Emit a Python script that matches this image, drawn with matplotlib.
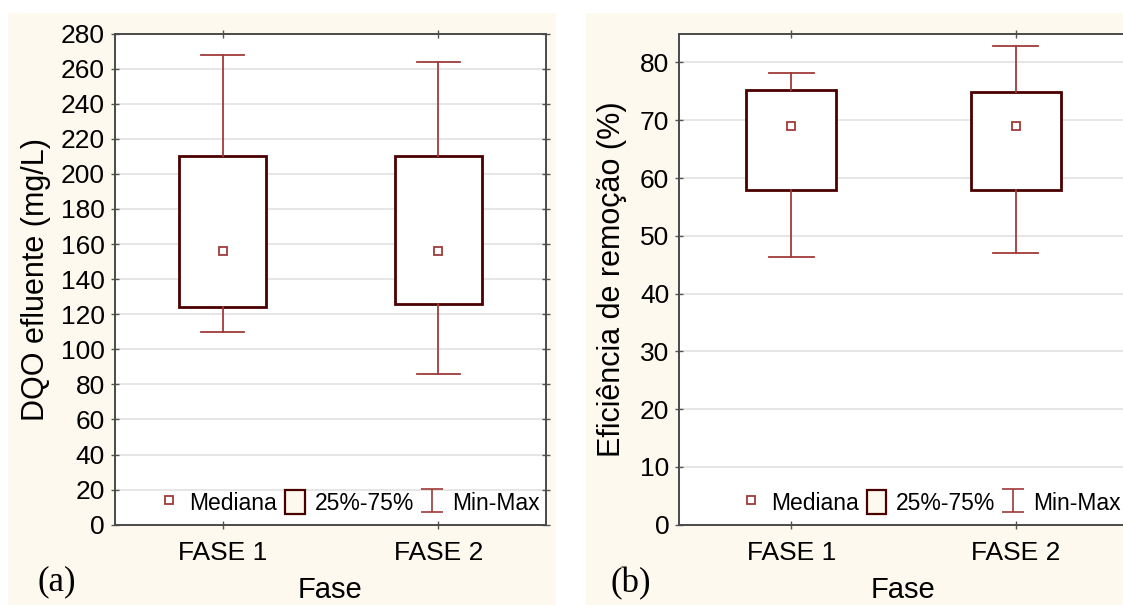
import matplotlib
matplotlib.use("Agg")
import matplotlib.pyplot as plt
from matplotlib.patches import Rectangle, Patch
from matplotlib.lines import Line2D
import numpy as np

plt.rcParams['font.family'] = ['Liberation Sans', 'DejaVu Sans']

# dados
fases = ["FASE 1", "FASE 2"]
dqo_min = [110, 86]
dqo_q1 = [124, 126]
dqo_med = [156, 156]
dqo_q3 = [210, 210]
dqo_max = [268, 264]

ef_min = [46.4, 47.1]
ef_q1 = [58.0, 58.0]
ef_med = [69.0, 69.0]
ef_q3 = [75.2, 74.9]
ef_max = [78.1, 82.8]

BOX_EDGE = "#4a0000"
WHISK = "#a03a3a"
CREAM = "#fdf9ee"
W, H = 1123, 605


def fx(px):
    return px / W


def fy(py):
    return (H - py) / H


def boxplot(ax, mins, q1s, meds, q3s, maxs, ymax, yticks):
    stats = []
    for i in range(len(fases)):
        stats.append({'med': meds[i], 'q1': q1s[i], 'q3': q3s[i],
                      'whislo': mins[i], 'whishi': maxs[i], 'fliers': []})
    pos = np.arange(1, len(fases) + 1)
    ax.bxp(stats, positions=pos, widths=0.4, capwidths=0.2, patch_artist=True,
           showfliers=False,
           boxprops=dict(facecolor="white", edgecolor=BOX_EDGE, linewidth=2.0),
           whiskerprops=dict(color=WHISK, linewidth=1.3),
           capprops=dict(color=WHISK, linewidth=1.3),
           medianprops=dict(visible=False), zorder=3)
    ax.plot(pos, meds, ls="none", marker="s", ms=5.5, mfc="white",
            mec=WHISK, mew=1.3, zorder=4)

    ax.set_xlim(0.5, 2.5)
    ax.set_ylim(0, ymax)
    ax.set_yticks(yticks)
    ax.set_xticks(pos)
    ax.set_xticklabels(fases)
    ax.grid(axis="y", color="#e4e4e4", lw=1.3, zorder=0)
    ax.set_axisbelow(True)
    for s in ax.spines.values():
        s.set_color("#4a4a4a")
        s.set_linewidth(1.4)
    ax.tick_params(direction="inout", length=6, width=1.0, color="#555555",
                   top=True, right=True, labelsize=19)
    ax.tick_params(axis="x", pad=9)
    ax.tick_params(axis="y", pad=4)

    hs = [Line2D([], [], ls="none", marker="s", ms=5.5, mfc="white", mec=WHISK, mew=1.3),
          Patch(facecolor=CREAM, edgecolor=BOX_EDGE, linewidth=1.6),
          ax.errorbar([np.nan], [np.nan], yerr=[1], fmt="none", ecolor=WHISK,
                      elinewidth=1.2, capsize=8, capthick=1.2)]
    ax.legend(hs, ["Mediana", "25%-75%", "Min-Max"], ncol=3, frameon=False,
              loc="center right", bbox_to_anchor=(0.985, 0.045), fontsize=16.5,
              handlelength=0.85, handleheight=1.25, handletextpad=0.45,
              columnspacing=0.35, borderpad=0, borderaxespad=0)
    return ax


fig = plt.figure(figsize=(11.23, 6.05), dpi=100)
fig.patch.set_facecolor("white")
fig.add_artist(Rectangle((fx(8), 0), fx(556) - fx(8), fy(13), transform=fig.transFigure,
                         facecolor=CREAM, edgecolor="none", zorder=-10))
fig.add_artist(Rectangle((fx(586), 0), 1 - fx(586), fy(13), transform=fig.transFigure,
                         facecolor=CREAM, edgecolor="none", zorder=-10))

ax1 = fig.add_axes([fx(114.6), fy(524.7), fx(431.8), (524.7 - 33.6) / H])
ax2 = fig.add_axes([fx(678.9), fy(524.7), fx(449), (524.7 - 33.6) / H])

boxplot(ax1, dqo_min, dqo_q1, dqo_med, dqo_q3, dqo_max, 280, np.arange(0, 281, 20))
boxplot(ax2, ef_min, ef_q1, ef_med, ef_q3, ef_max, 85, np.arange(0, 81, 10))

fig.text(fx(35.7), fy(279.5), "DQO efluente (mg/L)", rotation=90, ha="center", va="center", fontsize=22)
fig.text(fx(612), fy(279.5), "Eficiência de remoção (%)", rotation=90, ha="center", va="center", fontsize=22)
fig.text(fx(330.5), fy(590), "Fase", ha="center", va="center", fontsize=21)
fig.text(fx(903.4), fy(590), "Fase", ha="center", va="center", fontsize=21)
fig.text(fx(57), fy(582), "(a)", ha="center", va="center", fontsize=25,
         family=["Liberation Serif", "DejaVu Serif"])
fig.text(fx(631), fy(584), "(b)", ha="center", va="center", fontsize=25,
         family=["Liberation Serif", "DejaVu Serif"])

fig.savefig("out.png", dpi=100, facecolor="white")
